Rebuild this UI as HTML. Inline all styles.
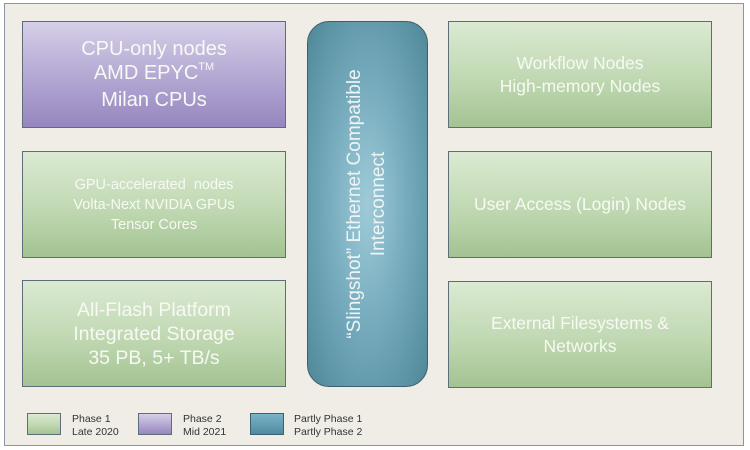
<!DOCTYPE html>
<html><head><meta charset="utf-8"><style>
html,body{margin:0;padding:0;background:#fff;}
body{width:750px;height:450px;position:relative;overflow:hidden;font-family:"Liberation Sans",sans-serif;}
.outer{position:absolute;left:4px;top:3px;width:740px;height:443px;box-sizing:border-box;border:1.5px solid #8a96a4;background:#efede6;}
.b{position:absolute;box-sizing:border-box;border:1.5px solid #5d6e7a;color:#f7f9f3;display:flex;align-items:center;justify-content:center;text-align:center;}
.g{background:linear-gradient(#dbead2,#c0d8b2 55%,#a3c392);}
.p{background:linear-gradient(#d6cfe8,#b2a6d2 55%,#9786bf);}
.mid{position:absolute;left:307px;top:21px;width:121px;height:366px;box-sizing:border-box;border:1.5px solid #3d6070;border-radius:22px;background:radial-gradient(ellipse at 50% 50%,#9fcbd8 0%,#73a9bb 50%,#4f8799 100%);}
.mt{position:absolute;left:367px;top:204px;transform:translate(-50%,-50%) rotate(-90deg);white-space:nowrap;color:#eef4f6;font-size:19px;line-height:24px;text-align:center;}
.lg{position:absolute;top:413px;width:34px;height:22px;box-sizing:border-box;border:1.5px solid #5d6e7a;}
.lt{position:absolute;top:413px;font-size:10.5px;line-height:13px;color:#333;}
</style></head><body>
<div class="outer"></div>
<div class="b p" style="left:22px;top:21px;width:264px;height:107px;font-size:20px;line-height:24px;"><div>CPU-only nodes<br>AMD EPYC<span style="font-size:11px;position:relative;top:-9px;">TM</span><br>Milan CPUs</div></div>
<div class="b g" style="left:22px;top:151px;width:264px;height:107px;font-size:14.5px;line-height:20px;"><div>GPU-accelerated &nbsp;nodes<br>Volta-Next NVIDIA GPUs<br>Tensor Cores</div></div>
<div class="b g" style="left:22px;top:280px;width:264px;height:107px;font-size:19.5px;line-height:24px;"><div>All-Flash Platform<br>Integrated Storage<br>35 PB, 5+ TB/s</div></div>
<div class="mid"></div>
<div class="mt">“Slingshot” Ethernet Compatible<br>Interconnect</div>
<div class="b g" style="left:448px;top:21px;width:264px;height:107px;font-size:17.5px;line-height:23px;"><div>Workflow Nodes<br>High-memory Nodes</div></div>
<div class="b g" style="left:448px;top:151px;width:264px;height:107px;font-size:17.5px;"><div>User Access (Login) Nodes</div></div>
<div class="b g" style="left:448px;top:281px;width:264px;height:107px;font-size:17.5px;line-height:23px;"><div>External Filesystems &amp;<br>Networks</div></div>
<div class="lg g" style="left:27px;"></div>
<div class="lt" style="left:72px;">Phase 1<br>Late 2020</div>
<div class="lg p" style="left:138px;"></div>
<div class="lt" style="left:183px;">Phase 2<br>Mid 2021</div>
<div class="lg" style="left:250px;background:linear-gradient(#7ab4c8,#4f8aa0);border-color:#3d6070;"></div>
<div class="lt" style="left:294px;">Partly Phase 1<br>Partly Phase 2</div>
</body></html>
